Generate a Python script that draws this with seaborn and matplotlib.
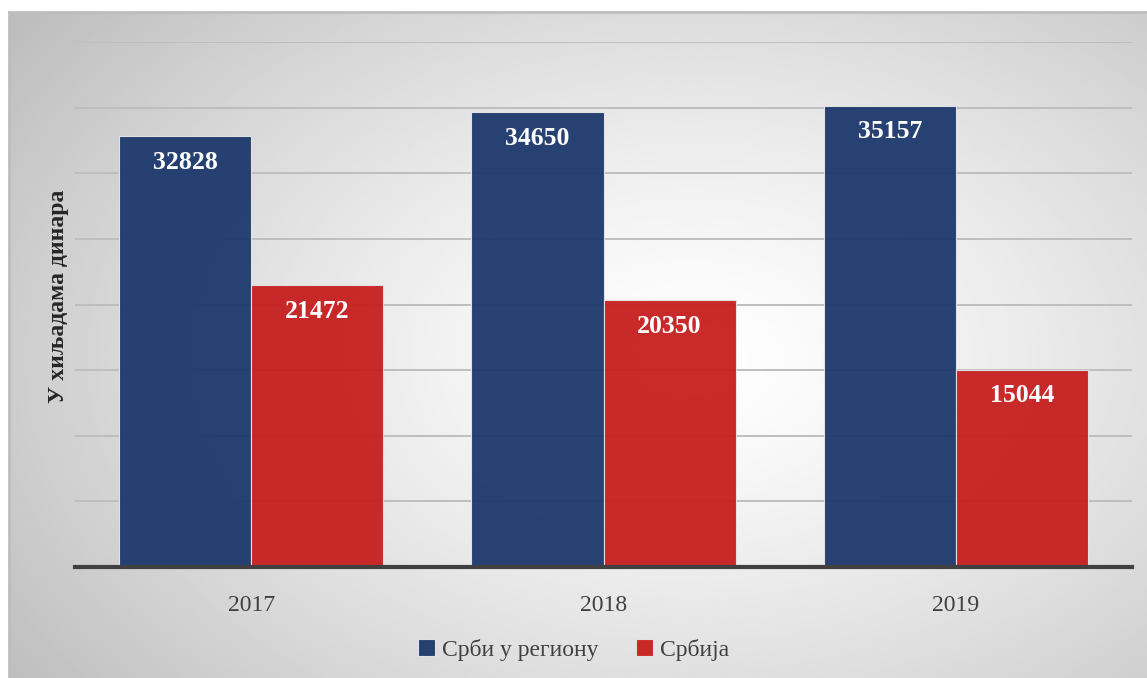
import numpy as np
import pandas as pd
import matplotlib
matplotlib.use("Agg")
import matplotlib.pyplot as plt
import seaborn as sns

# ==================== ДАННЫЕ ====================
years = ["2017", "2018", "2019"]
series_names = ["Срби у региону", "Србија"]
region_values = [32828, 34650, 35157]
serbia_values = [21472, 20350, 15044]
y_label = "У хиљадама динара"

colors = ["#1C386C", "#C61E1E"]

df = pd.DataFrame({
    "year": years * 2,
    "group": [series_names[0]] * 3 + [series_names[1]] * 3,
    "value": region_values + serbia_values,
})

# ==================== ОФОРМЛЕНИЕ ====================
sns.set_theme(style="white")
plt.rcParams["font.family"] = ["Liberation Serif", "DejaVu Serif"]

W, H = 1147, 678
fig = plt.figure(figsize=(W / 100, H / 100), dpi=100)
fig.patch.set_facecolor("white")

# фон с радиальным градиентом
bg = fig.add_axes([9 / W, 0, 1 - 9 / W, (H - 12) / H])
gx, gy = np.meshgrid(np.linspace(0, 1, 400), np.linspace(0, 1, 300))
r = np.sqrt(((gx - 0.6) / 0.7) ** 2 + ((gy - 0.52) / 0.8) ** 2)
shade = 1.0 - 0.24 * np.clip(r, 0, 1.15) ** 1.3
bg.imshow(shade, cmap="gray", vmin=0, vmax=1, aspect="auto",
          extent=[0, 1, 0, 1], interpolation="bilinear")
bg.set_xticks([])
bg.set_yticks([])
for side, sp in bg.spines.items():
    sp.set_visible(side in ("top", "left"))
    sp.set_color("#BDBDBD")
    sp.set_linewidth(2)

ax = fig.add_axes([75 / W, (H - 567) / H, (1132 - 75) / W, (567 - 42) / H])
ax.set_facecolor("none")

sns.barplot(data=df, x="year", y="value", hue="group", palette=colors,
            hue_order=series_names, order=years, width=0.75, saturation=1,
            alpha=0.95, edgecolor="#E6E6E6", linewidth=0.8, ax=ax, zorder=3)

ax.set_ylim(0, 40000)
ax.set_yticks(np.arange(0, 40001, 5000))
ax.yaxis.grid(True, color="#BEBEBE", linewidth=1.4, zorder=1)
ax.set_axisbelow(True)
ax.tick_params(axis="y", left=False, labelleft=False)
ax.tick_params(axis="x", bottom=False, labelsize=17, labelcolor="#404040", pad=14)
for side in ("top", "right", "left"):
    ax.spines[side].set_visible(False)
ax.spines["bottom"].set_color("#404040")
ax.spines["bottom"].set_linewidth(3)
ax.spines["bottom"].set_zorder(5)
ax.set_xlabel("")
ax.set_ylabel(y_label, fontsize=17, fontweight="bold", color="#262626")
ax.yaxis.set_label_coords(-0.006, 0.515)

# подписи значений внутри столбцов
for cont in ax.containers:
    for bar in cont:
        h = bar.get_height()
        ax.annotate(f"{int(round(h))}", (bar.get_x() + bar.get_width() / 2, h),
                    xytext=(0, -19), textcoords="offset points",
                    ha="center", va="center", color="white",
                    fontsize=18.5, fontweight="bold", zorder=6)

handles, labels = ax.get_legend_handles_labels()
ax.legend_.remove()
fig.legend(handles, labels, loc="center", bbox_to_anchor=(0.5, (H - 650) / H),
           ncol=2, frameon=False, fontsize=17, handlelength=0.7, handleheight=0.7,
           handletextpad=0.3, columnspacing=1.6, labelcolor="#404040")

fig.savefig("out.png", dpi=100)
